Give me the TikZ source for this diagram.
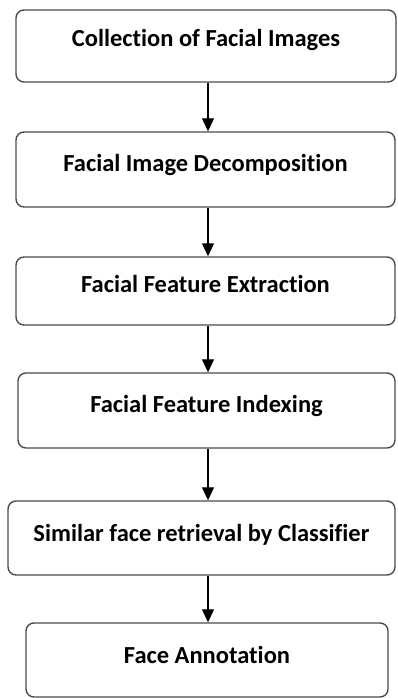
\documentclass[tikz,border=0pt]{standalone}
\usepackage{fontspec}
\setmainfont[Ligatures=NoCommon]{Carlito}
\usetikzlibrary{positioning}
\usetikzlibrary{arrows.meta}

\begin{document}
\begin{tikzpicture}[x=1pt, y=-1pt,
    stage/.style={draw=black!70, line width=1.4pt, rounded corners=8pt, inner sep=0pt,
        font=\bfseries\fontsize{24.5}{28}\selectfont, text height=12pt, text depth=8pt},
    flow/.style={line width=1.2pt, -{Triangle[length=13pt, width=12pt]}}]
    \useasboundingbox (0,0) rectangle (397,698);

    \coordinate (spine) at (208,0);

    % stages
    \node [stage, minimum width=380pt, minimum height=72pt, text depth=11pt] (collect) at (206,46) {Collection of Facial Images};
    \node [stage, minimum width=379pt, minimum height=75pt] (decomp) at (205.5,169.5) {Facial Image Decomposition};
    \node [stage, minimum width=379pt, minimum height=68pt, text depth=10pt] (extract) at (205.5,291) {Facial Feature Extraction};
    \node [stage, minimum width=377pt, minimum height=75pt] (index) at (206.5,410.5) {Facial Feature Indexing};
    \node [stage, minimum width=387pt, minimum height=74pt, text depth=6pt] (retrieve) at (201.5,538) {Similar face retrieval by Classifier};
    \node [stage, minimum width=362pt, minimum height=74pt, text depth=6pt] (annot) at (207,660) {Face Annotation};

    % arrows
    \draw [flow] (collect.south -| spine) -- (decomp.north -| spine);
    \draw [flow] (decomp.south -| spine) -- (extract.north -| spine);
    \draw [flow] (extract.south -| spine) -- (index.north -| spine);
    \draw [flow] (index.south -| spine) -- (retrieve.north -| spine);
    \draw [flow] (retrieve.south -| spine) -- (annot.north -| spine);

\end{tikzpicture}
\end{document}
